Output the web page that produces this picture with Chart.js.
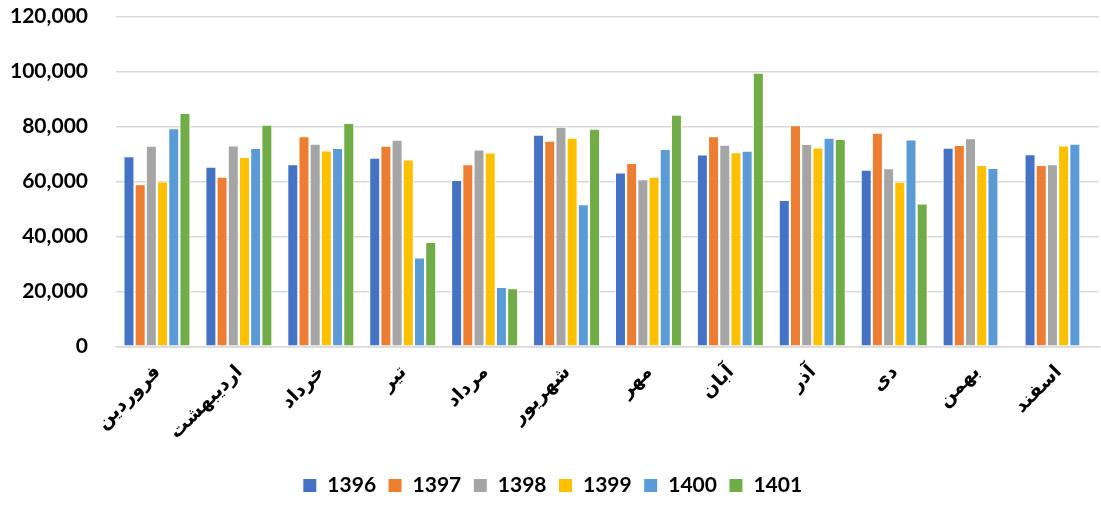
<!DOCTYPE html>
<html>
<head>
<meta charset="utf-8">
<script src="https://cdn.jsdelivr.net/npm/chart.js@4/dist/chart.umd.min.js"></script>
<style>
  html, body { margin: 0; padding: 0; background: #fff; }
  #wrap { width: 1101px; height: 506px; position: relative; }
</style>
</head>
<body>
<div id="wrap"><canvas id="c"></canvas></div>
<script>
// ماه‌ها (دسته‌ها)
const months = ['فروردین', 'اردیبهشت', 'خرداد', 'تیر', 'مرداد', 'شهریور', 'مهر', 'آبان', 'آذر', 'دی', 'بهمن', 'اسفند'];
const years = ['1396', '1397', '1398', '1399', '1400', '1401'];
const colors = ['#4472c4', '#ed7d31', '#a5a5a5', '#ffc000', '#5b9bd5', '#70ad47'];

// مقادیر هر سال
const v1396 = [69200, 65400, 66300, 68600, 60500, 77000, 63300, 69800, 53300, 64300, 72300, 69900];
const v1397 = [59000, 61700, 76500, 73000, 66300, 74800, 66700, 76500, 80500, 77700, 73300, 66000];
const v1398 = [73000, 73100, 73700, 75200, 71600, 79900, 60800, 73400, 73600, 64800, 75700, 66300];
const v1399 = [60000, 68900, 71300, 68000, 70500, 75900, 61700, 70600, 72400, 59900, 66000, 73100];
const v1400 = [79400, 72200, 72200, 32300, 21600, 51700, 71800, 71200, 75900, 75300, 64900, 73700];
const v1401 = [84900, 80600, 81300, 38000, 21100, 79200, 84300, 99600, 75500, 52000, null, null];

const values = [v1396, v1397, v1398, v1399, v1400, v1401];
const yTicks = [0, 20000, 40000, 60000, 80000, 100000, 120000];

const FONT = 'Lato, "DejaVu Sans", sans-serif';

const datasets = years.map((y, i) => ({
  label: y,
  data: values[i],
  backgroundColor: colors[i],
  borderColor: '#ffffff',
  borderWidth: 1,
  borderSkipped: 'bottom',
  categoryPercentage: 0.82,
  barPercentage: 0.98
}));

new Chart(document.getElementById('c'), {
  type: 'bar',
  data: { labels: months, datasets: datasets },
  options: {
    responsive: true,
    maintainAspectRatio: false,
    animation: false,
    layout: { padding: { top: 0, right: 2, left: 6, bottom: 0 } },
    scales: {
      x: {
        grid: { display: false },
        border: { color: '#d9d9d9', width: 1.5 },
        ticks: {
          color: '#000',
          font: { family: FONT, size: 19, weight: 'bold' },
          maxRotation: 45,
          minRotation: 45,
          padding: 6
        },
        afterFit: axis => { axis.paddingLeft = 0; axis.height += 14; }
      },
      y: {
        min: 0,
        max: 120000,
        afterBuildTicks: axis => { axis.ticks = yTicks.map(v => ({ value: v })); },
        grid: { color: '#d9d9d9', lineWidth: 1.5, drawTicks: true, tickLength: 24, tickColor: 'rgba(0,0,0,0)' },
        border: { display: false },
        ticks: {
          color: '#000',
          font: { family: FONT, size: 21, weight: 'bold' },
          padding: 4,
          callback: v => v.toLocaleString('en-US')
        }
      }
    },
    plugins: {
      legend: {
        position: 'bottom',
        labels: {
          color: '#000',
          boxWidth: 14,
          boxHeight: 14,
          padding: 12,
          font: { family: FONT, size: 21, weight: 'bold' }
        }
      },
      tooltip: { enabled: false }
    }
  }
});
</script>
</body>
</html>
